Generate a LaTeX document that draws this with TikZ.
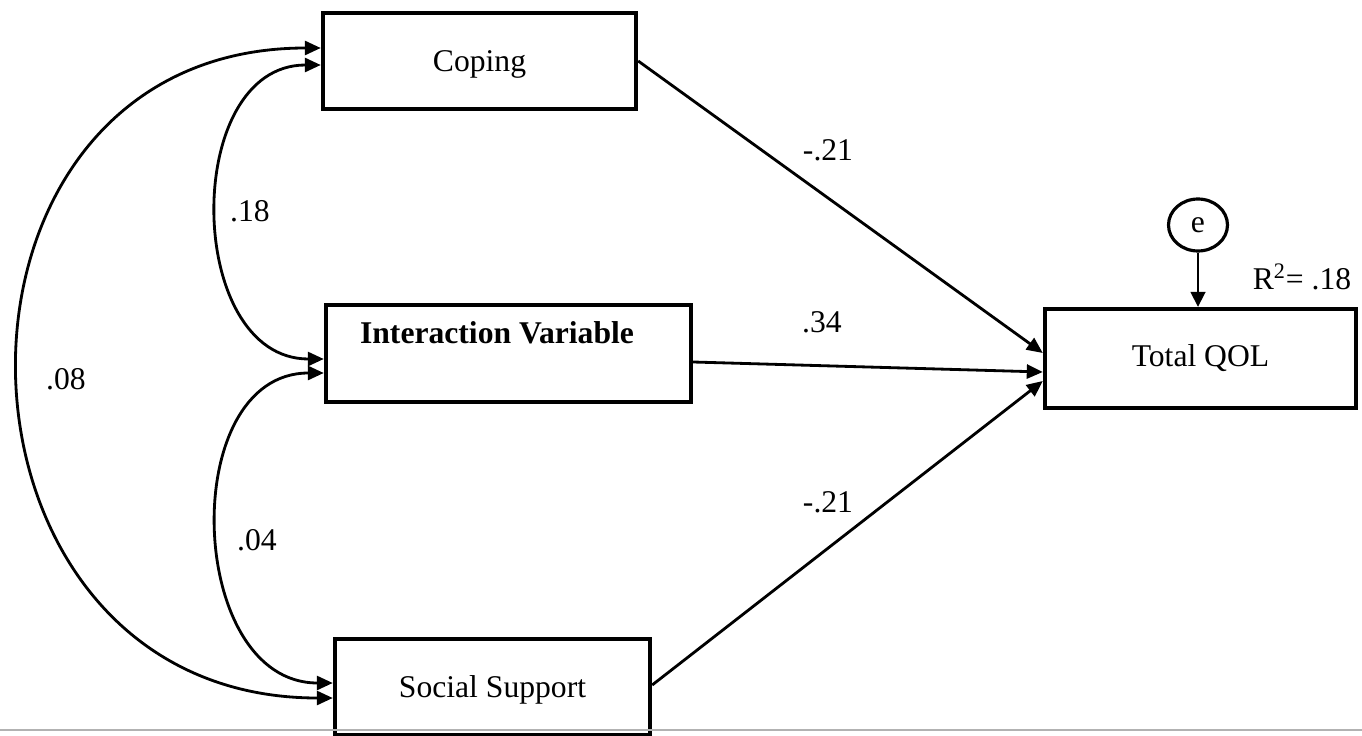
\documentclass[tikz,border=0pt]{standalone}
\usepackage{fontspec}
\setmainfont{Liberation Serif}
\usetikzlibrary{shapes.geometric, arrows.meta}
\tikzstyle{var} = [rectangle, draw, line width=2.5pt, minimum width=6.26cm, minimum height=1.92cm, text centered, font=\fontsize{18}{22}\selectfont]
\tikzstyle{err} = [ellipse, draw, line width=1.8pt, minimum width=1.18cm, minimum height=1.04cm, inner sep=0pt, font=\fontsize{18}{22}\selectfont]
\tikzstyle{coef} = [font=\fontsize{18}{22}\selectfont]
\tikzstyle{arrow} = [line width=1.6pt, -{Triangle[length=0.32cm, width=0.28cm]}]
\tikzstyle{covar} = [line width=1.6pt, {Triangle[length=0.32cm, width=0.28cm]}-{Triangle[length=0.32cm, width=0.28cm]}]
\begin{document}
\begin{tikzpicture}
            \useasboundingbox (0,0) rectangle (27.24,-14.72);
            \node [var, text depth=0pt] at (9.59,-1.22) (cope) {Coping};
            \node [var, minimum width=7.3cm, minimum height=1.94cm] at (10.17,-7.07) (inter) {};
            \node [coef, font=\fontsize{18}{22}\selectfont\bfseries] at (9.94,-6.66) (intertext) {Interaction Variable};
            \node [var, minimum width=6.3cm, text depth=0pt] at (9.85,-13.74) (social) {Social Support};
            \node [var, minimum width=6.22cm, minimum height=1.98cm] at (24.01,-7.17) (qol) {Total QOL};
            \node [err] at (23.96,-4.5) (e) {e};

            \node [coef] at (5.0,-4.22) (l18) {.18};
            \node [coef] at (5.14,-10.8) (l04) {.04};
            \node [coef] at (1.32,-7.58) (l08) {.08};
            \node [coef] at (16.56,-3.0) (lcope) {-.21};
            \node [coef] at (16.44,-6.44) (linter) {.34};
            \node [coef] at (16.56,-10.04) (lsocial) {-.21};
            \node [coef] at (26.04,-5.54) (lr2) {R\textsuperscript{2}= .18};

            \draw [arrow] (cope.east) -- ([yshift=0.11cm]qol.west);
            \draw [arrow] ([yshift=-0.17cm]inter.east) -- ([yshift=-0.27cm]qol.west);
            \draw [arrow] ([yshift=0.04cm]social.east) -- ([yshift=-0.45cm]qol.west);
            \draw [line width=1pt, -{Triangle[length=0.3cm, width=0.3cm]}] (e.south) -- (e.south |- qol.north);
            \draw [covar] ([yshift=0.26cm]cope.west) .. controls +(-8.2,0) and +(-8.2,0) .. ([yshift=-0.22cm]social.west);
            \draw [covar] ([yshift=-0.08cm]cope.west) .. controls +(-2.79,0) and +(-2.79,0) .. ([yshift=-0.11cm]inter.west);
            \draw [covar] ([yshift=-0.39cm]inter.west) .. controls +(-2.94,0) and +(-2.94,0) .. ([yshift=0.08cm]social.west);
            \draw [gray!60, line width=0.8pt] (0,-14.6) -- (27.24,-14.6);
            \end{tikzpicture}
\end{document}
